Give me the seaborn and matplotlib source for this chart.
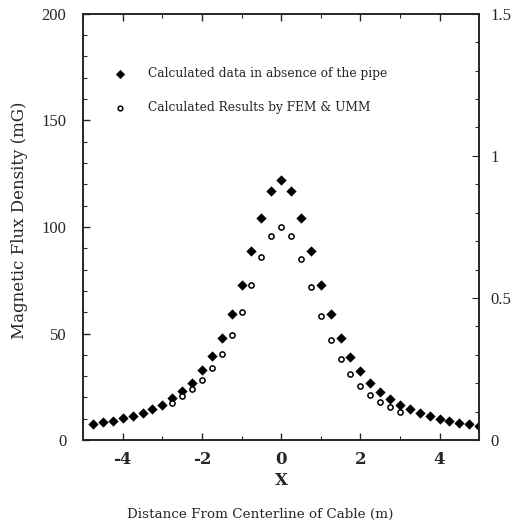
import numpy as np
import pandas as pd
import matplotlib
matplotlib.use("Agg")
import matplotlib.pyplot as plt
import seaborn as sns
from matplotlib.ticker import MultipleLocator, FixedLocator

# data
x_no_pipe = [-4.75, -4.5, -4.25, -4.0, -3.75, -3.5, -3.25, -3.0, -2.75, -2.5,
             -2.25, -2.0, -1.75, -1.5, -1.25, -1.0, -0.75, -0.5, -0.25, 0.0,
             0.25, 0.5, 0.75, 1.0, 1.25, 1.5, 1.75, 2.0, 2.25, 2.5,
             2.75, 3.0, 3.25, 3.5, 3.75, 4.0, 4.25, 4.5, 4.75, 5.0]
b_no_pipe = [7.5, 8.3, 9.0, 10.3, 11.4, 12.8, 14.7, 16.7, 19.7, 23.1,
             27.0, 32.7, 39.6, 48.0, 59.3, 73.0, 88.6, 104.3, 117.0, 122.0,
             117.0, 104.3, 88.6, 73.0, 59.0, 48.0, 39.2, 32.4, 27.0, 22.7,
             19.5, 16.7, 14.4, 12.5, 11.1, 9.8, 8.9, 8.0, 7.4, 6.6]

x_fem = [-2.75, -2.5, -2.25, -2.0, -1.75, -1.5, -1.25, -1.0, -0.75, -0.5,
         -0.25, 0.0, 0.25, 0.5, 0.75, 1.0, 1.25, 1.5, 1.75, 2.0,
         2.25, 2.5, 2.75, 3.0]
b_fem = [17.5, 20.5, 23.8, 28.1, 33.6, 40.5, 49.2, 60.2, 72.8, 85.8,
         95.8, 100.0, 95.7, 85.0, 71.6, 58.2, 46.9, 38.1, 31.0, 25.3,
         21.3, 17.8, 15.6, 13.4]

label_no_pipe = "Calculated data in absence of the pipe"
label_fem = "Calculated Results by FEM & UMM"

sns.set_style("ticks")
plt.rcParams['axes.unicode_minus'] = False
plt.rcParams['font.family'] = ['Liberation Serif', 'DejaVu Serif']

df1 = pd.DataFrame({'x': x_no_pipe, 'B': b_no_pipe})
df2 = pd.DataFrame({'x': x_fem, 'B': b_fem})

fig = plt.figure(figsize=(5.13, 5.29), dpi=100)
ax = fig.add_axes([0.162, 0.168, 0.772, 0.806])

sns.scatterplot(data=df1, x='x', y='B', ax=ax, marker='D', s=24,
                color='black', edgecolor='black', linewidth=0.3, label=label_no_pipe)
sns.scatterplot(data=df2, x='x', y='B', ax=ax, marker='o', s=14,
                facecolor='white', edgecolor='black', linewidth=1.1, label=label_fem)

ax.set_xlim(-5, 5)
ax.set_ylim(0, 200)
ax.xaxis.set_major_locator(FixedLocator([-4, -2, 0, 2, 4]))
ax.xaxis.set_minor_locator(MultipleLocator(1))
ax.yaxis.set_major_locator(MultipleLocator(50))
ax.yaxis.set_minor_locator(MultipleLocator(10))
ax.tick_params(axis='both', which='both', direction='in', top=True, right=False)
ax.tick_params(which='major', length=5, width=1)
ax.tick_params(which='minor', length=3, width=0.8)
ax.tick_params(axis='y', labelsize=12, pad=12)
ax.tick_params(axis='x', pad=8)
for lab in ax.get_xticklabels():
    lab.set_family('DejaVu Serif')
    lab.set_fontsize(12)
    lab.set_fontweight('bold')
for sp in ax.spines.values():
    sp.set_linewidth(1.2)

# right hand scale
ax2 = ax.twinx()
ax2.set_ylim(0, 1.5)
ax2.yaxis.set_major_locator(FixedLocator([0, 0.5, 1, 1.5]))
ax2.yaxis.set_minor_locator(MultipleLocator(0.1))
ax2.set_yticklabels(['0', '0.5', '1', '1.5'])
ax2.tick_params(axis='y', which='both', direction='in', labelsize=12, pad=8)
ax2.tick_params(which='major', length=5)
ax2.tick_params(which='minor', length=3, width=0.8)
for sp in ax2.spines.values():
    sp.set_linewidth(1.2)

ax.set_xlabel("X", family='DejaVu Serif', fontsize=12, fontweight='bold', labelpad=3)
ax.set_ylabel("Magnetic Flux Density (mG)", family='DejaVu Serif', fontsize=12)
ax.yaxis.set_label_coords(-0.138, 0.515)
fig.text(0.507, 0.028, "Distance From Centerline of Cable (m)",
         family='DejaVu Serif', fontsize=9.7, ha='center', va='center')

leg = ax.legend(loc='upper left', bbox_to_anchor=(0.05, 0.9), frameon=False,
                prop={'family': 'DejaVu Serif', 'size': 8.8},
                handletextpad=1.8, labelspacing=1.7, handlelength=1.0,
                markerscale=0.9)

fig.savefig("out.png", dpi=100)
